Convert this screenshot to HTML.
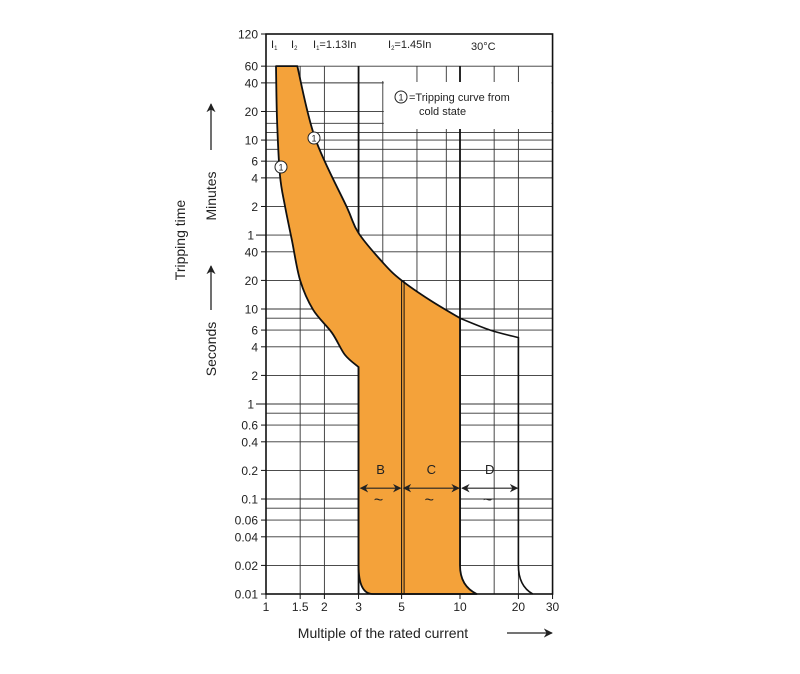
<!DOCTYPE html>
<html><head><meta charset="utf-8"><style>
html,body{margin:0;padding:0;background:#fff;}
svg{display:block;font-family:"Liberation Sans",Arial,sans-serif;}
</style></head><body>
<svg id="chart" width="800" height="674" viewBox="0 0 800 674" xmlns="http://www.w3.org/2000/svg">
<defs>
<marker id="ah" viewBox="0 0 10 10" refX="9" refY="5" markerWidth="7" markerHeight="7" orient="auto-start-reverse"><path d="M0,0 L10,5 L0,10 L3,5 z" fill="#222"/></marker>
</defs>
<g id="grid"></g>
<g id="marks"></g>
<g id="ann"></g>
<g id="axes"></g>
<text x="0" y="0" transform="translate(185,240) rotate(-90)" text-anchor="middle" font-size="14" fill="#222">Tripping time</text>
<text transform="translate(216,196) rotate(-90)" text-anchor="middle" font-size="14" fill="#222">Minutes</text>
<text transform="translate(216,349) rotate(-90)" text-anchor="middle" font-size="14" fill="#222">Seconds</text>
<line x1="211" y1="150" x2="211" y2="104" stroke="#222" stroke-width="1.3" marker-end="url(#ah)"/>
<line x1="211" y1="310" x2="211" y2="266" stroke="#222" stroke-width="1.3" marker-end="url(#ah)"/>
<text x="383" y="638" text-anchor="middle" font-size="14" fill="#222">Multiple of the rated current</text>
<line x1="507" y1="633" x2="552" y2="633" stroke="#222" stroke-width="1.3" marker-end="url(#ah)"/>
</svg>
<script>
// y values in seconds, x values in multiples of In
const yTickSeconds = [7200,3600,2400,1200,600,360,240,120,60,40,20,10,6,4,2,1,0.6,0.4,0.2,0.1,0.06,0.04,0.02,0.01];
const yTickLabels = ["120","60","40","20","10","6","4","2","1","40","20","10","6","4","2","1","0.6","0.4","0.2","0.1","0.06","0.04","0.02","0.01"];
const yExtraGrid = [480,720,900,8,0.8,0.08];
const xTickValues = [1,1.5,2,3,5,10,20,30];
const xTickLabels = ["1","1.5","2","3","5","10","20","30"];
const xGridValues = [1.5,2,4,6,8.5,15,20];
const coldCurveX = [1.126,1.14,1.18,1.25,1.36,1.5,1.75,2.19,2.55,3.0];
const coldCurveY = [3600,977,257,124,53,20,9.8,5.6,3.3,2.45];
const upperCurveX = [1.45,1.79,2.61,3.0,4.05,5.0,7.0,10];
const upperCurveY = [3600,630,118,63,30,20,12.4,8.0];
const dCurveX = [10,14.3,20];
const dCurveY = [8.0,6.0,5.0];
const bandStart = [3,5,10];
const bandEnd = [5,10,20];
const bandLabels = ["B","C","D"];

const X0=266, XD=194, Y0=404, YD=95;
const xs = v => X0 + XD*Math.log10(v);
const ys = v => Y0 - YD*Math.log10(v);
const NS="http://www.w3.org/2000/svg";
function mk(tag, attrs, parent){const e=document.createElementNS(NS,tag);for(const k in attrs)e.setAttribute(k,attrs[k]);parent.appendChild(e);return e;}
const grid=document.getElementById('grid'), marks=document.getElementById('marks'), ann=document.getElementById('ann'), axes=document.getElementById('axes');
const L=xs(1), R=xs(30), T=34, B=ys(0.01);

// horizontal grid
yTickSeconds.concat(yExtraGrid).forEach(v=>{
  const y=ys(v); if(v>=7200) return;
  const l=mk('line',{x1:L,x2:R,y1:y,y2:y,stroke:'#333','stroke-width':0.9},grid);
  
  
});
// vertical grid
xGridValues.forEach(v=>{
  const x=xs(v);
  const l=mk('line',{x1:x,x2:x,y1:(v===4?81:ys(3600)),y2:B,stroke:'#333','stroke-width':0.9},grid);
  
  
});
[3,10].forEach(v=>{const l=mk('line',{x1:xs(v),x2:xs(v),y1:ys(3600),y2:B,stroke:'#111','stroke-width':1.8},grid);
  
  });
// legend box
const lb=mk('rect',{x:xs(4)+1,y:82,width:R-xs(4)-2,height:47,fill:'#fff'},grid);



function pts(xa,ya){return xa.map((x,i)=>[xs(x),ys(ya[i])]);}
function smooth(p){let d='';for(let i=0;i<p.length-1;i++){const p0=p[i-1]||p[i],p1=p[i],p2=p[i+1],p3=p[i+2]||p2;
 const c1=[p1[0]+(p2[0]-p0[0])/6,p1[1]+(p2[1]-p0[1])/6],c2=[p2[0]-(p3[0]-p1[0])/6,p2[1]-(p3[1]-p1[1])/6];
 d+=` C${c1[0]},${c1[1]} ${c2[0]},${c2[1]} ${p2[0]},${p2[1]}`;}return d;}
const cold=pts(coldCurveX,coldCurveY), up=pts(upperCurveX,upperCurveY), dc=pts(dCurveX,dCurveY);
const y02=ys(0.02);
// orange region
let d=`M${cold[0][0]},${cold[0][1]}`+smooth(cold)+` L${xs(3)},${y02} Q${xs(3)},${B} ${xs(3.55)},${B} L${xs(12.2)},${B} Q${xs(10)},${B-8} ${xs(10)},${y02} L${up[up.length-1][0]},${up[up.length-1][1]}`;
const rev=up.slice().reverse(); d+=smooth(rev)+' Z';
const orange=mk('path',{d:d,fill:'#f4a23a',stroke:'#111','stroke-width':1.8,'stroke-linejoin':'round'},marks);


// D region
let d2=`M${dc[0][0]},${dc[0][1]}`+smooth(dc)+` L${xs(20)},${y02} Q${xs(20)},${B-8} ${xs(23.7)},${B}`;
const dp=mk('path',{d:d2,fill:'none',stroke:'#111','stroke-width':1.6},marks);


// double line at 5
[xs(5),xs(5)+2.5].forEach(x=>{const l=mk('line',{x1:x,x2:x,y1:ys(20),y2:B,stroke:'#111','stroke-width':1},marks);
 
 });
// band arrows
bandStart.forEach((s,i)=>{
  const x1=xs(s)+2,x2=xs(bandEnd[i])-1,y=ys(0.13);
  const a=mk('line',{x1:x1,x2:x2,y1:y,y2:y,stroke:'#222','stroke-width':1.2,'marker-start':'url(#ah)','marker-end':'url(#ah)'},ann);
  
  
  const cx=(x1+x2)/2;
  const t=mk('text',{x:cx,y:ys(0.13)-14,'text-anchor':'middle','font-size':13,fill:'#222'},ann); t.textContent=bandLabels[i];
  
  
  const tl=mk('text',{x:cx-2,y:ys(0.13)+17,'text-anchor':'middle','font-size':16,fill:'#222'},ann); tl.textContent='~';
  
  
});
// circle markers
[[281,167],[314,138],[401,97]].forEach((c,i)=>{
  const g=mk('g',{},ann);
  
  
  mk('circle',{cx:c[0],cy:c[1],r:6,fill:'#fff',stroke:'#222','stroke-width':1},g);
  const t=mk('text',{x:c[0],y:c[1]+3.5,'text-anchor':'middle','font-size':9,fill:'#222'},g); t.textContent='1';
});
const lt=mk('text',{x:409,y:101,'font-size':11,fill:'#222'},ann); lt.textContent='=Tripping curve from';


const lt2=mk('text',{x:419,y:115,'font-size':11,fill:'#222'},ann); lt2.textContent='cold state';


// header
const hdr=[[271,'I','1'],[291,'I','2'],[313,'I','1','=1.13In'],[388,'I','2','=1.45In']];
hdr.forEach(h=>{
  const t=mk('text',{x:h[0],y:48,'font-size':11,fill:'#222'},ann);
  
  
  t.appendChild(document.createTextNode(h[1]));
  const s=mk('tspan',{'font-size':6,dy:2},t); s.textContent=h[2];
  if(h[3]){const s2=mk('tspan',{dy:-2},t); s2.textContent=h[3];}
});
const tc=mk('text',{x:471,y:50,'font-size':11,fill:'#222'},ann); tc.textContent='30°C';



// frame
const fr=mk('rect',{x:L,y:T,width:R-L,height:B-T,fill:'none',stroke:'#111','stroke-width':1.6},axes);


// y ticks
yTickSeconds.forEach((v,i)=>{
  const y=(v>=7200)?T:ys(v);
  const long=(yTickLabels[i]==='1');
  const tk=mk('line',{x1:L-(long?10:5),x2:L,y1:y,y2:y,stroke:'#111','stroke-width':1},axes);
  
  
  const t=mk('text',{x:L-(long?12:8),y:y+4.5,'text-anchor':'end','font-size':12,fill:'#222'},axes); t.textContent=yTickLabels[i];
  
  
});
// x ticks
xTickValues.forEach((v,i)=>{
  const x=xs(v);
  const tk=mk('line',{x1:x,x2:x,y1:B,y2:B+5,stroke:'#111','stroke-width':1},axes);
  
  
  const t=mk('text',{x:x,y:B+17,'text-anchor':'middle','font-size':12,fill:'#222'},axes); t.textContent=xTickLabels[i];
  
  
});
</script>
</body></html>
